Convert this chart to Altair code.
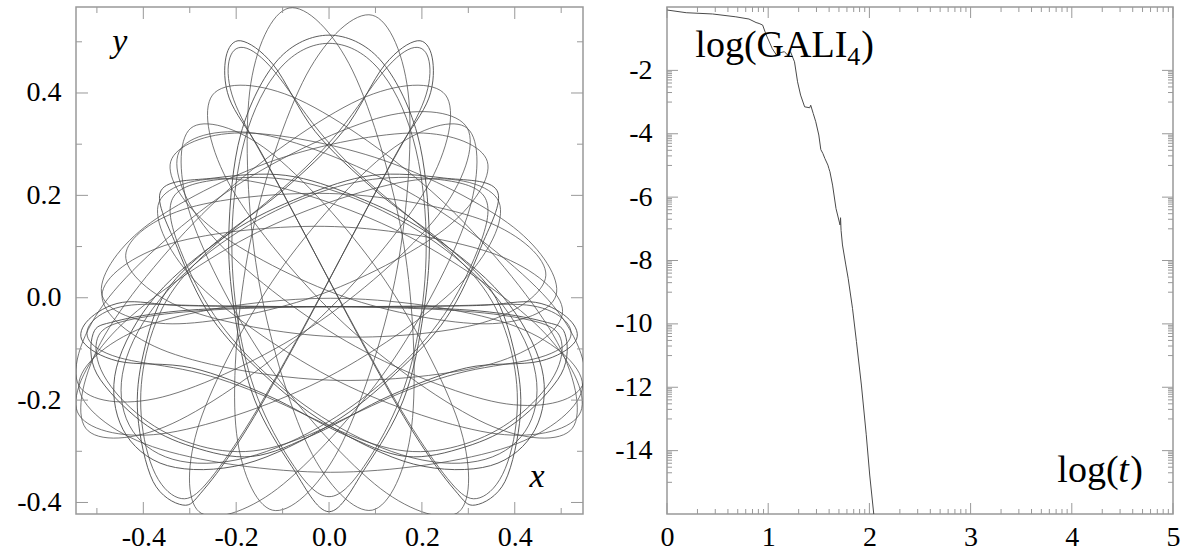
import altair as alt
import pandas as pd

# ---------------- Left panel: orbit in the (x, y) plane, loops ----------------
L1 = [(0.190, 0.502), (0.222, 0.470), (0.215, 0.390), (0.150, 0.290), (0.066, 0.148), (-0.078, -0.099),
      (-0.185, -0.268), (-0.270, -0.375), (-0.315, -0.405), (-0.379, -0.359), (-0.412, -0.229), (-0.400, -0.110),
      (-0.351, 0.012), (-0.243, 0.109), (-0.099, 0.210), (0.030, 0.325), (0.120, 0.455)]
L2 = [(-0.190, 0.502), (-0.222, 0.470), (-0.215, 0.390), (-0.150, 0.290), (-0.066, 0.148), (0.078, -0.099),
      (0.185, -0.268), (0.270, -0.375), (0.315, -0.405), (0.379, -0.359), (0.412, -0.229), (0.400, -0.110),
      (0.351, 0.012), (0.243, 0.109), (0.099, 0.210), (-0.030, 0.325), (-0.120, 0.455)]
L3 = [(-0.530, -0.086), (-0.518, -0.043), (-0.445, -0.009), (-0.326, -0.015), (-0.161, -0.017), (0.125, -0.018),
      (0.325, -0.026), (0.460, -0.046), (0.508, -0.070), (0.500, -0.149), (0.404, -0.242), (0.295, -0.291),
      (0.165, -0.310), (0.027, -0.265), (-0.132, -0.191), (-0.296, -0.137), (-0.454, -0.124)]
L4 = [(0.530, -0.086), (0.518, -0.043), (0.445, -0.009), (0.326, -0.015), (0.161, -0.017), (-0.125, -0.018),
      (-0.325, -0.026), (-0.460, -0.046), (-0.508, -0.070), (-0.500, -0.149), (-0.404, -0.242), (-0.295, -0.291),
      (-0.165, -0.310), (-0.027, -0.265), (0.132, -0.191), (0.296, -0.137), (0.454, -0.124)]
VA = [(0.0, -0.418), (-0.08, -0.33), (-0.16, -0.20), (-0.20, -0.05), (-0.216, 0.12), (-0.19, 0.32), (-0.11, 0.465),
      (0.0, 0.513), (0.11, 0.465), (0.19, 0.32), (0.216, 0.12), (0.20, -0.05), (0.16, -0.20), (0.08, -0.33)]
VB = [(0.362, 0.209), (0.326, 0.096), (0.253, -0.039), (0.143, -0.148), (0.004, -0.247), (-0.182, -0.325),
      (-0.348, -0.328), (-0.444, -0.257), (-0.458, -0.137), (-0.372, 0.005), (-0.212, 0.127), (-0.057, 0.198),
      (0.093, 0.239), (0.246, 0.234)]
VC = [(-0.362, 0.209), (-0.326, 0.096), (-0.253, -0.039), (-0.143, -0.148), (-0.004, -0.247), (0.182, -0.325),
      (0.348, -0.328), (0.444, -0.257), (0.458, -0.137), (0.372, 0.005), (0.212, 0.127), (0.057, 0.198),
      (-0.093, 0.239), (-0.246, 0.234)]

T1 = [(-0.086, 0.566), (-0.171, 0.402), (-0.154, 0.047), (-0.044, -0.292), (0.093, -0.415), (0.178, -0.251),
      (0.161, 0.104), (0.051, 0.443)]
T2 = [(0.093, 0.552), (-0.049, 0.435), (-0.171, 0.103), (-0.201, -0.249), (-0.122, -0.415), (0.020, -0.298),
      (0.142, 0.034), (0.172, 0.386)]
T3 = [(-0.251, 0.396), (-0.210, 0.214), (0.034, -0.052), (0.338, -0.246), (0.524, -0.255), (0.483, -0.073),
      (0.239, 0.193), (-0.065, 0.387)]
T3M = [(0.251, 0.396), (0.210, 0.214), (-0.034, -0.052), (-0.338, -0.246), (-0.524, -0.255), (-0.483, -0.073),
       (-0.239, 0.193), (0.065, 0.387)]
T4 = [(0.298, 0.331), (0.118, 0.354), (-0.203, 0.217), (-0.475, 0.000), (-0.539, -0.171), (-0.359, -0.194),
      (-0.038, -0.057), (0.234, 0.160)]
T5 = [(-0.323, 0.285), (-0.249, 0.118), (0.037, -0.085), (0.366, -0.205), (0.546, -0.171), (0.472, -0.004),
      (0.186, 0.199), (-0.143, 0.319)]
T6 = [(0.341, 0.266), (0.190, 0.322), (-0.116, 0.269), (-0.397, 0.138), (-0.489, 0.005), (-0.338, -0.051),
      (-0.032, 0.002), (0.249, 0.134)]
T6M = [(-0.341, 0.266), (-0.190, 0.322), (0.116, 0.269), (0.397, 0.138), (0.489, 0.005), (0.338, -0.051),
       (0.032, 0.002), (-0.249, 0.134)]
T7 = [(0.467, 0.044), (0.339, 0.149), (0.021, 0.203), (-0.301, 0.176), (-0.438, 0.083), (-0.310, -0.022),
      (0.009, -0.076), (0.330, -0.049)]
T9 = [(0.546, -0.171), (0.387, -0.051), (0.0035, -0.001), (-0.380, -0.051), (-0.539, -0.171), (-0.380, -0.291),
      (0.0035, -0.341), (0.387, -0.291)]
T10 = [(0.298, 0.331), (0.129, 0.286), (-0.110, 0.048), (-0.279, -0.244), (-0.280, -0.418), (-0.111, -0.373),
       (0.128, -0.135), (0.297, 0.157)]
T10M = [(-0.298, 0.331), (-0.129, 0.286), (0.110, 0.048), (0.279, -0.244), (0.280, -0.418), (0.111, -0.373),
        (-0.128, -0.135), (-0.297, 0.157)]
T11 = [(0.366, 0.187), (0.186, 0.230), (-0.154, 0.128), (-0.455, -0.060), (-0.542, -0.223), (-0.362, -0.266),
       (-0.022, -0.164), (0.279, 0.024)]
T11M = [(-0.366, 0.187), (-0.186, 0.230), (0.154, 0.128), (0.455, -0.060), (0.542, -0.223), (0.362, -0.266),
        (0.022, -0.164), (-0.279, 0.024)]
T12 = [(0.503, -0.027), (0.361, 0.084), (0.012, 0.139), (-0.340, 0.106), (-0.489, 0.005), (-0.347, -0.106),
       (0.002, -0.161), (0.354, -0.128)]

THICK = {"L1": L1, "L2": L2, "L3": L3, "L4": L4, "VA": VA, "VB": VB, "VC": VC}
THIN = {"T1": T1, "T2": T2, "T3": T3, "T3M": T3M, "T4": T4, "T5": T5, "T6": T6, "T6M": T6M, "T7": T7,
        "T9": T9, "T10": T10, "T10M": T10M, "T11": T11, "T11M": T11M, "T12": T12}

# ---------------- Right panel: log(GALI_4) vs log(t) ----------------
LOG_T = [0.0, 0.19, 0.45, 0.68, 0.81, 0.88, 0.91, 0.945, 0.98, 1.04, 1.08, 1.11, 1.16, 1.19, 1.22, 1.26,
         1.29, 1.32, 1.36, 1.41, 1.42, 1.445, 1.47, 1.50, 1.52, 1.54, 1.56, 1.59, 1.60, 1.61, 1.636, 1.67,
         1.71, 1.715, 1.72, 1.734, 1.767, 1.79, 1.833, 1.872, 1.921, 1.969, 2.003, 2.043]
LOG_GALI = [-0.095, -0.18, -0.22, -0.31, -0.38, -0.49, -0.52, -0.57, -0.88, -1.31, -1.51, -1.45, -1.41, -1.51,
            -1.41, -1.73, -2.36, -2.78, -3.15, -3.18, -3.10, -3.36, -3.62, -4.04, -4.50, -4.62, -4.78, -4.99,
            -5.10, -5.20, -5.62, -6.36, -6.88, -6.65, -7.05, -7.51, -8.14, -8.56, -9.51, -10.56, -11.93,
            -13.50, -14.77, -16.0]

# ---------------- tick values ----------------
ORBIT_MAJOR = [-0.4, -0.2, 0.0, 0.2, 0.4]
ORBIT_X_MINOR = [-0.5, -0.3, -0.1, 0.1, 0.3, 0.5]
ORBIT_Y_MINOR = [-0.3, -0.1, 0.1, 0.3, 0.5]
T_MAJOR = [0, 1, 2, 3, 4, 5]
DECADES = [0, 1, 2, 3, 4]
LOG_FRACTIONS = [0.301, 0.477, 0.602, 0.699, 0.778, 0.845, 0.903, 0.954]
G_MAJOR = [-2, -4, -6, -8, -10, -12, -14]
G_ODD = [-3, -5, -7, -9, -11, -13, -15]

T_MINOR = [d + f for d in DECADES for f in LOG_FRACTIONS]
G_MINOR = [o + f for o in G_ODD for f in [0.0] + LOG_FRACTIONS]

LINE = "#4a4a4a"
FRAME = "#999999"
FONT = "Liberation Serif"
W1, W2, H = 507, 506, 507

XS1 = alt.Scale(domain=[-0.545, 0.547], nice=False, zero=False)
YS1 = alt.Scale(domain=[-0.4225, 0.568], nice=False, zero=False)
XS2 = alt.Scale(domain=[0, 5], nice=False, zero=False)
YS2 = alt.Scale(domain=[-16, 0], nice=False, zero=False)

LABEL_EXPR_1 = "datum.value < -0.001 ? '-' + format(-datum.value, '.1f') : format(abs(datum.value), '.1f')"
LABEL_EXPR_0 = "datum.value < 0 ? '-' + format(-datum.value, 'd') : format(datum.value, 'd')"


def axis(values, expr, orient_x):
    return alt.Axis(values=values, title=None, tickSize=0, tickOpacity=0, domainOpacity=0, grid=False,
                    labelExpr=expr, labelFont=FONT, labelFontSize=28, labelColor="black",
                    labelPadding=9 if orient_x else 15, labelFlush=False, labelOverlap=False,
                    orient="bottom" if orient_x else "left")


AX1 = axis(ORBIT_MAJOR, LABEL_EXPR_1, True)
AY1 = axis(ORBIT_MAJOR, LABEL_EXPR_1, False)
AX2 = axis(T_MAJOR, LABEL_EXPR_0, True)
AY2 = axis(G_MAJOR, LABEL_EXPR_0, False)


def loops_df(d):
    rows = []
    for name, pts in d.items():
        for i, (x, y) in enumerate(pts):
            rows.append({"loop": name, "i": i, "x": x, "y": y})
    return pd.DataFrame(rows)


def tick_layers(xvals_major, xvals_minor, yvals_major, yvals_minor, xs, ys, ax, ay, w, h, lmaj, lmin):
    layers = []
    for vals, ln in ((xvals_major, lmaj), (xvals_minor, lmin)):
        df = pd.DataFrame({"v": vals})
        base = alt.Chart(df).mark_rule(color=FRAME, strokeWidth=1)
        layers.append(base.encode(x=alt.X("v:Q", scale=xs, axis=ax), y=alt.value(h), y2=alt.value(h - ln)))
        layers.append(base.encode(x=alt.X("v:Q", scale=xs, axis=ax), y=alt.value(0), y2=alt.value(ln)))
    for vals, ln in ((yvals_major, lmaj), (yvals_minor, lmin)):
        df = pd.DataFrame({"v": vals})
        base = alt.Chart(df).mark_rule(color=FRAME, strokeWidth=1)
        layers.append(base.encode(y=alt.Y("v:Q", scale=ys, axis=ay), x=alt.value(0), x2=alt.value(ln)))
        layers.append(base.encode(y=alt.Y("v:Q", scale=ys, axis=ay), x=alt.value(w), x2=alt.value(w - ln)))
    return layers


# ---------------- left chart ----------------
def loop_layer(d, interp, sw):
    return alt.Chart(loops_df(d)).mark_line(interpolate=interp, color=LINE, strokeWidth=sw, clip=True).encode(
        x=alt.X("x:Q", scale=XS1, axis=AX1),
        y=alt.Y("y:Q", scale=YS1, axis=AY1),
        detail="loop:N", order="i:Q")


lab1 = pd.DataFrame({"x": [-0.467, 0.432], "y": [0.48, -0.369], "t": ["y", "x"]})
letters = alt.Chart(lab1).mark_text(font=FONT, fontSize=34, fontStyle="italic", align="left",
                                    baseline="alphabetic", color="black").encode(
    x=alt.X("x:Q", scale=XS1, axis=AX1), y=alt.Y("y:Q", scale=YS1, axis=AY1), text="t:N")

left = alt.layer(
    loop_layer(THIN, "cardinal-closed", 0.75),
    loop_layer(THICK, "cardinal-closed", 0.9),
    loop_layer(THICK, "basis-closed", 0.8),
    letters,
    *tick_layers(ORBIT_MAJOR, ORBIT_X_MINOR, ORBIT_MAJOR, ORBIT_Y_MINOR, XS1, YS1, AX1, AY1, W1, H, 12, 6)
).properties(width=W1, height=H)

# ---------------- right chart ----------------
gali = alt.Chart(pd.DataFrame({"t": LOG_T, "g": LOG_GALI})).mark_line(color=LINE, strokeWidth=1,
                                                                       clip=True).encode(
    x=alt.X("t:Q", scale=XS2, axis=AX2),
    y=alt.Y("g:Q", scale=YS2, axis=AY2),
    order="t:Q")

gl = pd.DataFrame({"x": [0.28], "y": [-1.57]})
tl = pd.DataFrame({"x": [3.857], "y": [-14.98]})


def txt(df, s, size, dx, dy=0, style="normal"):
    return alt.Chart(df).mark_text(text=s, font=FONT, fontSize=size, fontStyle=style, align="left",
                                   baseline="alphabetic", color="black", dx=dx, dy=dy).encode(
        x=alt.X("x:Q", scale=XS2, axis=AX2), y=alt.Y("y:Q", scale=YS2, axis=AY2))


right = alt.layer(
    gali,
    txt(gl, "log(GALI", 38, 0), txt(gl, "4", 26, 152, 8), txt(gl, ")", 38, 166),
    txt(tl, "log(", 38, 0), txt(tl, "t", 38, 61, 0, "italic"), txt(tl, ")", 38, 73),
    *tick_layers(T_MAJOR, T_MINOR, G_MAJOR, G_MINOR, XS2, YS2, AX2, AY2, W2, H, 11, 5)
).properties(width=W2, height=H)

chart = alt.hconcat(left, right, spacing=84, bounds="flush").properties(
    padding={"left": 15, "top": 5, "right": 5, "bottom": 2}
).configure_view(stroke=FRAME, strokeWidth=1.5)

chart.save("out.html", embed_options={"renderer": "svg", "actions": False})
